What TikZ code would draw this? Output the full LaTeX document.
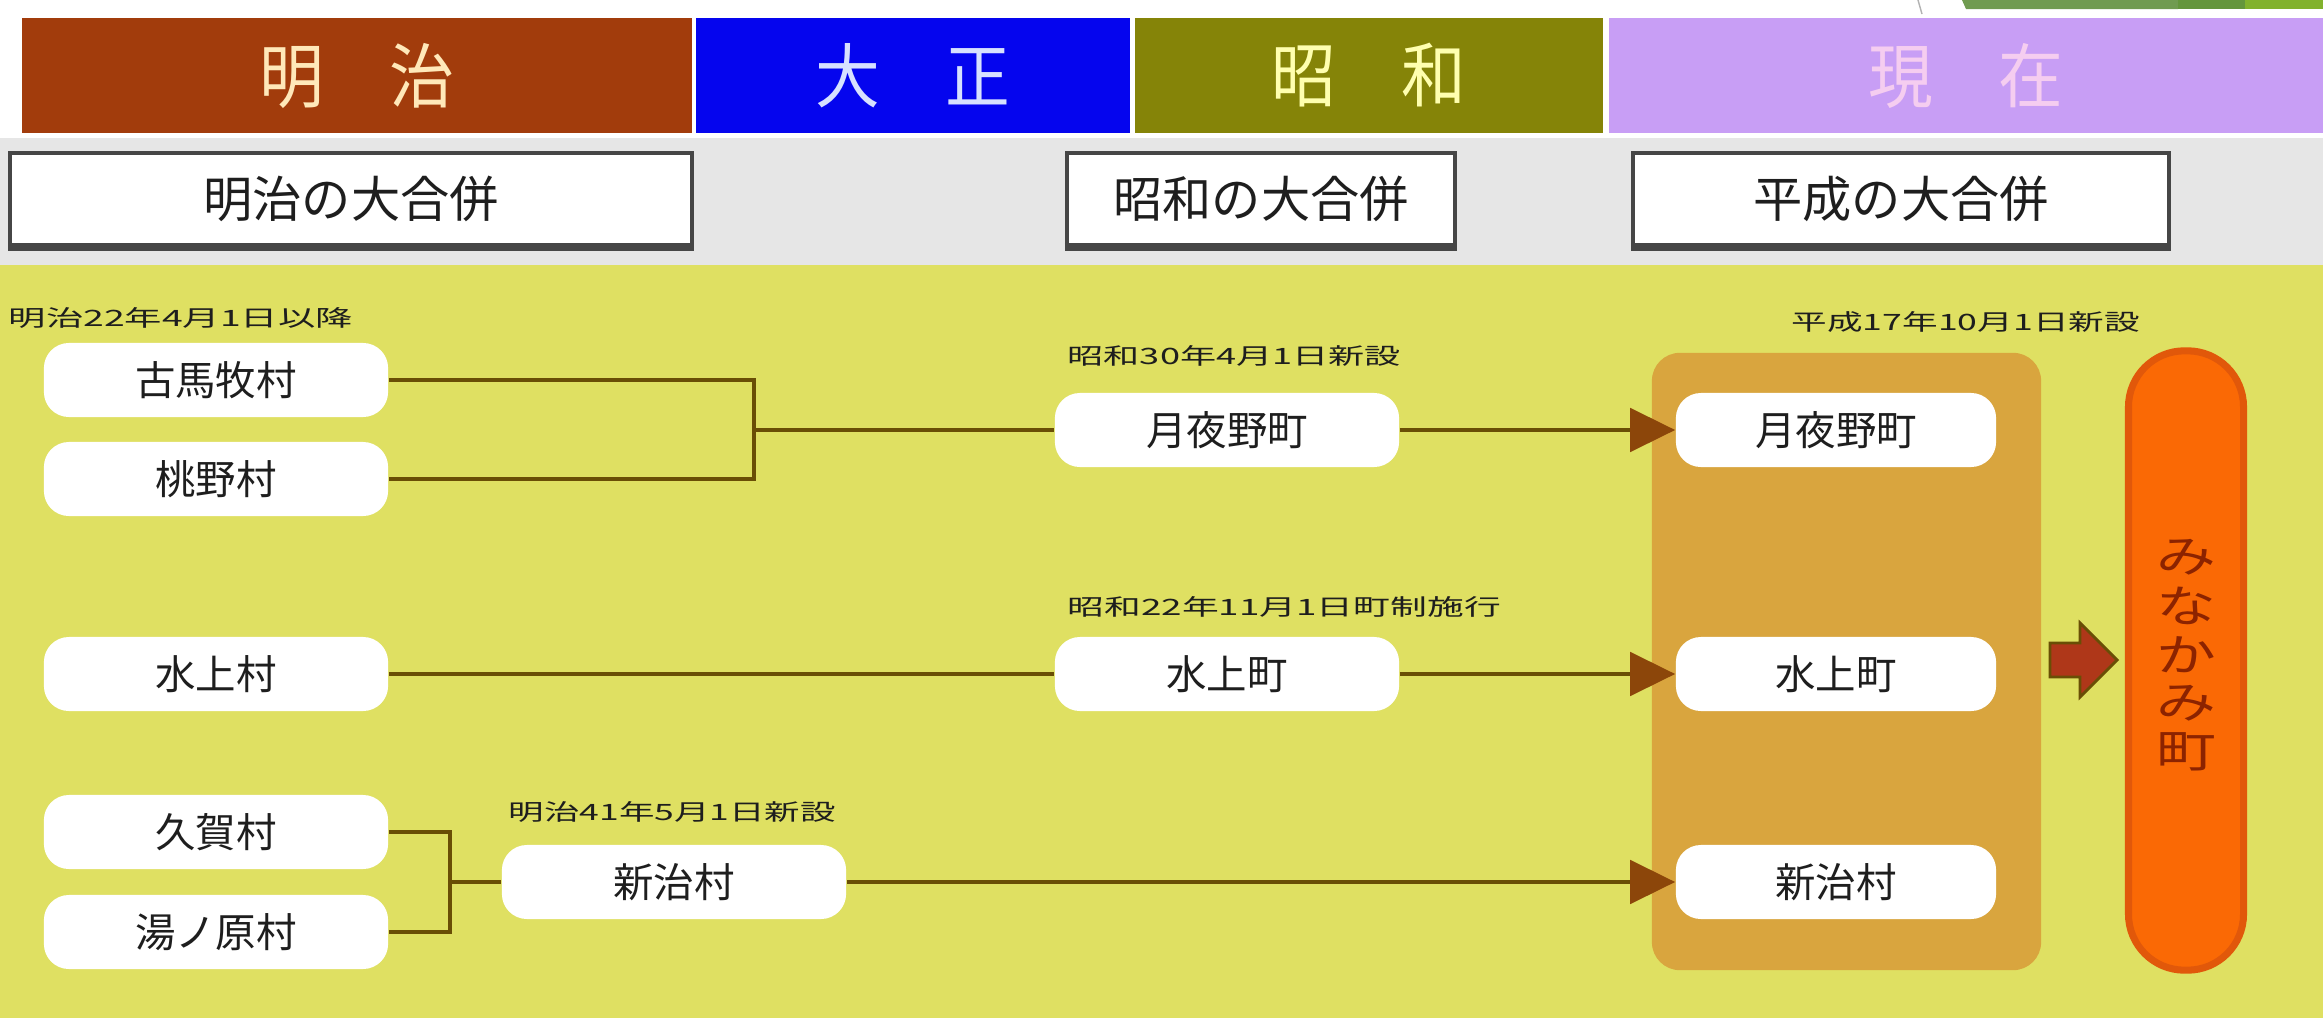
\documentclass[tikz,border=0pt]{standalone}
\usepackage{fontspec}
\usepackage{graphicx}
\setmainfont{Noto Sans CJK JP}
\usetikzlibrary{arrows.meta,calc}
\definecolor{meiji}{RGB}{162,60,12}
\definecolor{taisho}{RGB}{5,5,238}
\definecolor{showa}{RGB}{133,132,8}
\definecolor{genzai}{RGB}{200,158,245}
\definecolor{rowgray}{RGB}{230,230,230}
\definecolor{bgyellow}{RGB}{223,224,98}
\definecolor{boxorange}{RGB}{217,165,62}
\definecolor{pillorange}{RGB}{250,105,5}
\definecolor{pilledge}{RGB}{225,88,10}
\definecolor{pilltext}{RGB}{140,35,0}
\definecolor{linec}{RGB}{105,78,5}
\definecolor{tipc}{RGB}{140,70,10}
\definecolor{fatc}{RGB}{175,55,25}
\definecolor{boxedge}{RGB}{70,70,70}
\definecolor{darktext}{RGB}{30,30,30}
\definecolor{greenA}{RGB}{112,155,80}
\definecolor{greenB}{RGB}{100,150,60}
\definecolor{greenC}{RGB}{130,178,45}
\tikzset{
  hdr/.style={minimum height=1.15cm, inner sep=0pt, font=\fontsize{20}{22}\selectfont},
  era/.style={fill=white, draw=boxedge, line width=1.2pt, minimum height=0.92cm, inner sep=0pt,
    text=darktext, font=\fontsize{14}{16}\selectfont},
  town/.style={fill=white, rounded corners=0.25cm, minimum width=3.44cm, minimum height=0.74cm,
    inner sep=0pt, text=darktext, font=\fontsize{11.5}{13}\selectfont},
  inner/.style={town, minimum width=3.2cm},
  lbl/.style={inner sep=0pt, text=darktext},
  conn/.style={draw=linec, line width=1.4pt},
  arr/.style={conn, -{Triangle[length=0.45cm, width=0.43cm, fill=tipc, color=tipc]}},
}
\newcommand\lbltext[2]{\resizebox{#1}{0.19cm}{#2}}
\newcommand\hdrtext[1]{\scalebox{0.92}[1]{#1}}
\begin{document}
\begin{tikzpicture}[x=0.01cm,y=-0.01cm]
\useasboundingbox (0,0) rectangle (2323,1018);
\fill[white] (0,0) rectangle (2323,1018);
% top-right slide decoration
\fill[greenA] (1962,0) -- (2178,0) -- (2178,9) -- (1966,9) -- cycle;
\fill[greenB] (2178,0) rectangle (2245,9);
\fill[greenC] (2245,0) rectangle (2323,9);
\draw[gray!60, line width=0.4pt] (1918,0) -- (1922,14);
% backgrounds
\fill[rowgray] (0,138) rectangle (2323,265);
\fill[bgyellow] (0,265) rectangle (2323,1018);
% header bars
\node[hdr, fill=meiji, minimum width=6.70cm, text={rgb,255:red,255;green,232;blue,185}] (h1) at (357,75.5) {\hdrtext{明　治}};
\node[hdr, fill=taisho, minimum width=4.34cm, text={rgb,255:red,215;green,225;blue,255}] (h2) at (913,75.5) {\hdrtext{大　正}};
\node[hdr, fill=showa, minimum width=4.68cm, text={rgb,255:red,255;green,255;blue,175}] (h3) at (1369,75.5) {\hdrtext{昭　和}};
\node[hdr, fill=genzai, minimum width=7.14cm, text={rgb,255:red,245;green,205;blue,240}] (h4) at (1966,75.5) {\hdrtext{現　在}};
% era boxes
\node[era, minimum width=6.81cm] (r1) at (351,199) {明治の大合併};
\node[era, minimum width=3.88cm] (r2) at (1261,199) {昭和の大合併};
\node[era, minimum width=5.35cm] (r3) at (1901,199) {平成の大合併};
\foreach \r in {r1,r2,r3} {\draw[boxedge, line width=2.4pt] (\r.south west) -- (\r.south east);}
% right side containers
\node[fill=boxorange, rounded corners=0.28cm, minimum width=3.89cm, minimum height=6.17cm, inner sep=0pt] (box) at (1846.5,661.5) {};
\node[fill=pillorange, draw=pilledge, line width=2pt, rounded corners=0.56cm, minimum width=1.15cm, minimum height=6.19cm, inner sep=0pt, text=pilltext] (pill) at (2186,660.5)
  {\fontsize{17}{18}\selectfont\scalebox{1}[0.74]{\begin{tabular}{@{}c@{}}み\\な\\か\\み\\町\end{tabular}}};
% date labels
\node[lbl, anchor=west] (l1) at (8,318) {\lbltext{3.44cm}{明治22年4月1日以降}};
\node[lbl, anchor=west] (l2) at (1067,356) {\lbltext{3.33cm}{昭和30年4月1日新設}};
\node[lbl, anchor=west] (l3) at (1067,607) {\lbltext{4.33cm}{昭和22年11月1日町制施行}};
\node[lbl, anchor=west] (l4) at (508,812) {\lbltext{3.27cm}{明治41年5月1日新設}};
\node[lbl, anchor=west] (l5) at (1791,322) {\lbltext{3.48cm}{平成17年10月1日新設}};
% towns
\node[town] (a1) at (216,380) {古馬牧村};
\node[town] (a2) at (216,479) {桃野村};
\node[town] (a3) at (216,674) {水上村};
\node[town] (a4) at (216,832) {久賀村};
\node[town] (a5) at (216,932) {湯ノ原村};
\node[town] (b1) at (1227,430) {月夜野町};
\node[town] (b2) at (1227,674) {水上町};
\node[town] (c1) at (674,882) {新治村};
\node[inner] (i1) at (1836,430) {月夜野町};
\node[inner] (i2) at (1836,674) {水上町};
\node[inner] (i3) at (1836,882) {新治村};
% connectors
\coordinate (j1) at (754,430);
\coordinate (j2) at (450,882);
\draw[conn] (a1.east) -| (j1) |- (a2.east);
\draw[conn] (j1) -- (b1.west);
\draw[conn] (a4.east) -| (j2) |- (a5.east);
\draw[conn] (j2) -- (c1.west);
\draw[conn] (a3.east) -- (b2.west);
\draw[arr] (b1.east) -- (i1.west);
\draw[arr] (b2.east) -- (i2.west);
\draw[arr] (c1.east) -- (i3.west);
% fat arrow from box to pill
\fill[fatc, draw=linec, line width=0.8pt] (2050,643) -- (2080,643) -- (2080,623) -- (2117,660) -- (2080,697) -- (2080,677) -- (2050,677) -- cycle;
\end{tikzpicture}
\end{document}
